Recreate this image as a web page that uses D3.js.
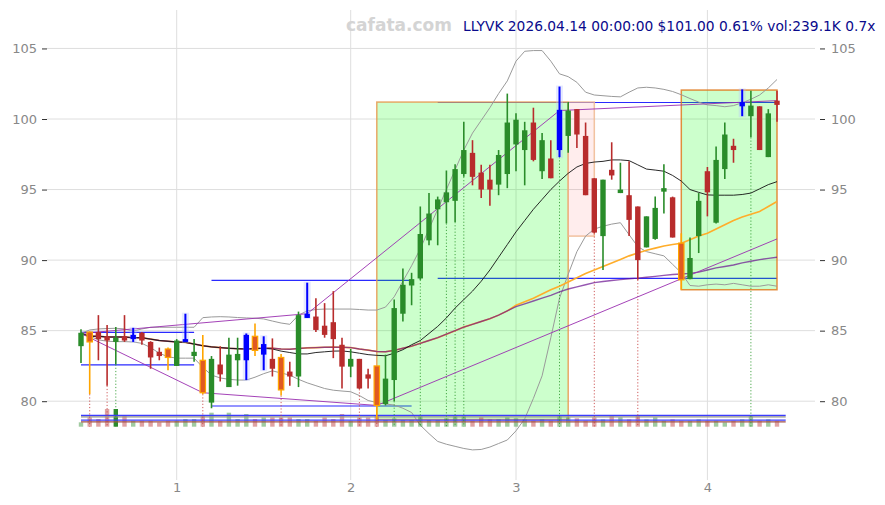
<!DOCTYPE html>
<html><head><meta charset="utf-8">
<script src="https://cdn.jsdelivr.net/npm/d3@7"></script>
<style>body{margin:0;background:#fff;} svg{display:block;font-family:"DejaVu Sans",sans-serif;}</style>
</head><body>
<svg id="c" width="885" height="505"></svg>
<script>
// ---------- DATA ----------
const opens  = [83.9,84.9,84.9,84.6,84.2,84.6,84.4,84.85,84.2,83.5,83.7,82.5,84.2,83.2,82.9,79.9,82.6,81.0,82.9,82.9,
  84.6,83.3,83.0,83.1,82.1,81.75,85.9,86.0,85.35,85.6,84.0,82.45,83.0,81.9,82.5,79.8,81.5,86.2,88.2,88.7,
  91.4,93.6,94.1,94.2,96.1,97.6,96.2,95.7,95.35,96.1,98.2,97.8,99.75,96.3,97.2,97.8,98.8,100.7,98.8,95.8,
  91.7,96.4,94.75,94.6,93.8,90.9,91.5,94.85,94.45,91.2,88.65,91.7,96.3,92.65,96.45,98.1,100.9,100.2,100.9,97.3,101.3];
const highs  = [85.1,84.95,86.1,85.4,85.25,86.1,85.2,84.9,84.25,83.8,83.8,84.4,86.2,84.4,84.7,83.2,83.9,84.5,84.5,84.8,
  85.5,84.6,84.45,83.35,82.8,86.35,88.4,87.3,86.95,87.8,84.5,83.7,83.0,82.3,82.5,83.3,87.2,89.4,89.1,93.8,
  94.75,94.5,96.35,96.8,99.8,98.5,96.75,96.75,97.8,101.8,100.4,99.8,100.8,99.0,98.5,102.3,101.2,100.7,99.75,95.8,
  95.7,98.35,96.9,97.0,93.8,93.1,94.5,96.8,94.5,91.9,91.6,94.75,96.6,98.05,99.75,98.6,102.1,102.0,100.9,100.7,102.0];
const lows   = [82.7,80.5,82.9,81.1,82.6,84.2,84.2,84.0,82.3,82.9,82.2,82.5,84.2,82.8,80.5,79.5,81.4,81.0,81.1,81.5,
  83.2,82.2,81.75,80.4,81.1,81.0,85.9,84.9,84.5,83.05,80.9,81.7,80.85,80.9,78.7,79.7,80.0,85.65,86.8,88.6,
  91.05,91.05,92.6,92.7,95.9,95.3,94.4,93.85,94.6,95.1,96.3,95.3,97.0,95.75,95.8,97.3,97.6,97.95,94.6,91.9,
  89.3,95.7,94.75,91.7,88.6,90.9,91.45,93.3,91.6,87.9,88.65,90.5,93.1,92.6,95.75,96.9,100.2,98.7,97.8,97.3,99.8];
const closes = [84.85,84.2,84.4,84.3,84.5,84.3,84.7,84.3,83.1,83.2,83.1,84.3,84.4,83.5,80.6,83.0,81.9,83.3,83.35,84.7,
  83.6,84.05,82.3,80.8,81.75,86.1,86.2,85.05,84.7,84.4,82.45,83.0,80.9,81.6,79.7,81.6,86.6,88.25,88.65,91.85,
  93.3,94.3,94.8,96.45,97.8,95.9,95.0,95.0,97.45,99.75,99.95,99.2,97.1,98.5,95.8,100.65,100.6,98.9,94.6,91.95,
  95.7,96.0,95.0,92.85,90.0,93.1,93.7,95.1,91.6,88.6,90.15,94.2,94.8,97.1,98.9,97.8,101.2,100.95,97.8,100.4,101.0];
// candle marker: g up, r down, b blue highlight, o orange highlight
const marks = ["g","o","r","r","g","r","b","r","r","r","o","g","b","g","o","g","r","g","g","b",
  "o","b","r","o","r","g","b","r","r","r","r","g","r","r","o","g","g","g","g","g",
  "g","g","g","g","g","r","r","r","g","g","g","g","r","g","r","b","g","r","r","r",
  "g","r","g","r","r","g","g","g","r","o","g","g","r","g","g","r","b","g","r","g","r"];
const volumes = [176,372,308,708,708,468,240,240,240,176,240,240,308,308,468,560,240,560,308,508,
  308,372,372,372,372,308,308,240,372,308,508,240,372,372,468,268,332,268,268,468,
  268,268,336,468,468,240,376,296,296,376,336,296,240,296,240,468,376,336,240,376,
  296,468,376,296,468,296,376,240,296,240,240,296,240,240,176,240,296,468,240,296,239.1];
const spikes = [1,3,4,14,23,32,34,36,39,42,43,44,55,59,64,77];
const ma20 = [84.8,84.6,84.6,84.55,84.55,84.55,84.5,84.5,84.4,84.3,84.25,84.2,84.17,84.05,83.93,83.85,83.8,83.75,83.72,83.7,
  83.72,83.74,83.7,83.55,83.45,83.35,83.35,83.45,83.5,83.55,83.56,83.5,83.4,83.3,83.25,83.22,
  83.4,83.65,84.0,84.3,84.8,85.3,85.9,86.6,87.2,87.8,88.5,89.3,90.2,91.1,92.0,92.8,93.6,94.3,95.0,95.6,96.15,96.6,96.85,
  96.95,97.0,97.1,97.1,97.05,96.75,96.45,96.38,96.3,96.0,95.6,95.0,94.8,94.62,94.6,94.6,94.6,94.65,94.75,95.05,95.35,95.56];
const ma50 = [84.8,84.6,84.6,84.55,84.55,84.55,84.5,84.5,84.4,84.3,84.25,84.2,84.17,84.05,83.93,83.85,83.8,83.75,83.72,83.7,
  83.74,83.76,83.75,83.7,83.68,83.73,83.78,83.8,83.82,83.83,83.82,83.8,83.7,83.62,83.52,83.5,
  83.6,83.75,83.9,84.1,84.3,84.5,84.75,85.0,85.25,85.45,85.65,85.85,86.1,86.4,
  86.8,87.05,87.3,87.6,87.9,88.15,88.45,88.75,89.05,89.3,89.55,89.8,90.05,90.3,90.5,90.7,90.85,91.0,91.1,91.2,
  91.45,91.7,91.9,92.2,92.5,92.8,93.05,93.25,93.45,93.8,94.15];
const ma100 = [84.8,84.6,84.6,84.55,84.55,84.55,84.5,84.5,84.4,84.3,84.25,84.2,84.17,84.05,83.93,83.85,83.8,83.75,83.72,83.7,
  83.74,83.76,83.75,83.7,83.68,83.73,83.78,83.8,83.82,83.83,83.82,83.8,83.7,83.62,83.52,83.5,
  83.6,83.75,83.9,84.1,84.3,84.5,84.75,85.0,85.25,85.45,85.65,85.85,86.1,86.4,
  86.7,86.9,87.1,87.3,87.5,87.75,87.95,88.1,88.25,88.4,88.48,88.55,88.62,88.68,88.72,88.78,88.85,88.92,88.98,89.02,
  89.06,89.15,89.3,89.45,89.55,89.65,89.8,89.92,90.03,90.12,90.2];
const bandUpper = [84.81,85.05,85.12,85.15,85.17,85.12,84.97,85.12,85.24,85.24,85.24,85.24,85.24,85.24,
  85.92,85.97,85.99,85.97,85.93,85.9,85.88,85.83,85.68,85.54,85.45,86.1,86.4,86.5,86.53,86.53,86.53,86.53,86.5,86.46,86.46,86.67,
  87.4,88.5,89.6,90.8,92.2,93.6,95.0,96.4,97.8,99.0,99.9,100.8,101.8,102.7,104.1,104.8,104.85,104.85,104.1,103.2,103.0,102.6,101.9,101.7,101.65,101.6,
  101.57,101.9,102.2,102.25,102.2,102.1,101.95,101.72,101.45,101.2,101.0,100.95,100.87,100.95,101.15,101.4,101.7,102.2,102.8];
const bandLower = [84.8,84.6,84.35,84.25,84.22,84.22,84.2,84.1,83.8,83.4,83.15,83.05,83.05,83.05,
  82.4,81.85,81.65,81.55,81.5,81.5,81.7,81.95,82.15,82.0,81.85,81.55,81.3,81.1,80.9,80.78,80.72,80.67,80.4,80.05,79.9,79.8,
  79.73,79.5,79.2,78.3,77.7,77.15,76.95,76.8,76.65,76.55,76.58,76.75,77.0,77.25,77.9,78.75,80.2,81.8,84.5,87.3,89.0,90.6,91.7,92.2,92.4,92.55,92.65,
  91.8,90.95,90.6,90.45,90.3,89.7,89.1,88.2,88.15,88.25,88.3,88.25,88.35,88.25,88.15,88.15,88.25,88.15];
const trendUpper = [[0,84.8],[26,86.2],[55,100.6],[80,101.3]];
const trendLower = [[0,84.8],[14,80.6],[34,79.7],[80,91.5]];
// horizontal levels: [startIndex, endIndex, price]
const levels = [[0,13,84.88],[0,13,82.57],[15,38,88.57],[15,38,79.66],[41,80,88.71],[41,80,101.17]];
// boxes: [startIndex, endIndex, top, bottom, kind]
const boxes = [[34,56,101.2,78.7,"up"],[56,59,101.2,91.7,"down"],[69,80,102.05,87.9,"up2"]];
// volume reference lines (K)
const volLevels = [456,396,260,196];
const volLevelColors = ["#3b3bff","#8c8c8c","#3b3bff","#a0524a"];
const yTicks = [80,85,90,95,100,105];
const xTickIdx = [11,31,50,72];
const xTickLabels = ["1","2","3","4"];
const brand = "cafata.com";
const header = "LLYVK 2026.04.14 00:00:00 $101.00 0.61% vol:239.1K 0.7x";

// ---------- SCALES ----------
const svg = d3.select("#c");
const x = d3.scaleLinear().domain([0,80]).range([81,777]);
const y = d3.scaleLinear().domain([80,100]).range([401.2,119]);
const vy = d3.scaleLinear().domain([0,1000]).range([426.7,401.7]);
const idx = d3.range(opens.length);
const L = 47, R = 815, T = 10, B = 480;

// grid
const g0 = svg.append("g");
g0.selectAll("line.h").data(yTicks).join("line")
  .attr("x1",L).attr("x2",R).attr("y1",d=>y(d)).attr("y2",d=>y(d))
  .attr("stroke","#dedede").attr("stroke-width",1);
g0.selectAll("line.v").data(xTickIdx).join("line")
  .attr("x1",d=>x(d)).attr("x2",d=>x(d)).attr("y1",T).attr("y2",B)
  .attr("stroke","#dedede").attr("stroke-width",1);

// axes
const fmtY = d3.format("d");
const axL = svg.append("g").attr("transform",`translate(${L},0)`)
  .call(d3.axisLeft(y).tickValues(yTicks).tickSize(5).tickPadding(5).tickFormat(fmtY));
const axR = svg.append("g").attr("transform",`translate(${R+5},0)`)
  .call(d3.axisRight(y).tickValues(yTicks).tickSize(5).tickPadding(6).tickFormat(fmtY));
const axB = svg.append("g").attr("transform",`translate(0,${B})`)
  .call(d3.axisBottom(x).tickValues(xTickIdx).tickSize(0).tickPadding(3).tickFormat((d,i)=>xTickLabels[i]));
[axL,axR,axB].forEach(a=>{
  a.select(".domain").remove();
  a.selectAll("text").attr("fill","#888").style("font-size","13px").style("font-family","DejaVu Sans, sans-serif");
  a.selectAll("line").attr("stroke","#333");
});

// horizontal support/resistance levels
svg.append("g").selectAll("line").data(levels).join("line")
  .attr("x1",d=>x(d[0])).attr("x2",d=>x(d[1])).attr("y1",d=>y(d[2])).attr("y2",d=>y(d[2]))
  .attr("stroke","#2a2aff").attr("stroke-width",1.2);

// boxes
const boxFill = {up:"#00ff00",up2:"#00ff00",down:"#ff0000"};
const boxFillOp = {up:0.2,up2:0.2,down:0.07};
const boxStroke = {up:"#e89a50",up2:"#e07a20",down:"#f0b890"};
svg.append("g").selectAll("rect").data(boxes).join("rect")
  .attr("x",d=>x(d[0])).attr("width",d=>x(d[1])-x(d[0]))
  .attr("y",d=>y(d[2])).attr("height",d=>y(d[3])-y(d[2]))
  .attr("fill",d=>boxFill[d[4]]).attr("fill-opacity",d=>boxFillOp[d[4]])
  .attr("stroke",d=>boxStroke[d[4]]).attr("stroke-opacity",0.85).attr("stroke-width",1.5);

// bollinger bands
const lineGen = arr => d3.line().x((d,i)=>x(i)).y(d=>y(d))(arr);
svg.append("path").attr("d",lineGen(bandUpper)).attr("fill","none").attr("stroke","#9a9a9a").attr("stroke-width",1);
svg.append("path").attr("d",lineGen(bandLower)).attr("fill","none").attr("stroke","#9a9a9a").attr("stroke-width",1);

// volume bars
const isUp = i => closes[i] >= opens[i];
svg.append("g").selectAll("rect").data(idx).join("rect")
  .attr("x",i=>x(i)-2.2).attr("width",4.4)
  .attr("y",i=>vy(volumes[i])).attr("height",i=>vy(0)-vy(volumes[i]))
  .attr("fill",i=>isUp(i)?"#2e8b2e":"#b83232")
  .attr("fill-opacity",i=>i===4?1:0.45);
svg.append("g").selectAll("line").data(volLevels).join("line")
  .attr("x1",x(0)).attr("x2",x(81)).attr("y1",d=>vy(d)).attr("y2",d=>vy(d))
  .attr("stroke",(d,i)=>volLevelColors[i]).attr("stroke-width",1.2);

// spike dotted lines
svg.append("g").selectAll("line").data(spikes).join("line")
  .attr("x1",i=>x(i)).attr("x2",i=>x(i)).attr("y1",i=>y(lows[i])).attr("y2",vy(0))
  .attr("stroke",i=>isUp(i)?"#2e9a2e":"#c84040").attr("stroke-width",1)
  .attr("stroke-dasharray","1.2,2").attr("opacity",0.85);

// moving averages
svg.append("path").attr("d",lineGen(ma50)).attr("fill","none").attr("stroke","#ffad2a").attr("stroke-width",1.6);
svg.append("path").attr("d",lineGen(ma100)).attr("fill","none").attr("stroke","#6a1090").attr("stroke-width",1.4).attr("stroke-opacity",0.7);
svg.append("path").attr("d",lineGen(ma20)).attr("fill","none").attr("stroke","#111").attr("stroke-width",0.9);

// trend lines
const tl = d3.line().x(d=>x(d[0])).y(d=>y(d[1]));
[trendUpper,trendLower].forEach(t=>svg.append("path").attr("d",tl(t)).attr("fill","none")
  .attr("stroke","#9a2fb0").attr("stroke-width",1).attr("stroke-opacity",0.9));

// candles
const colorOf = {g:"#2a8c2a",r:"#b82c2c",b:"#0000ff",o:"#ffa500"};
const cg = svg.append("g");
cg.selectAll("rect.halo").data(idx.filter(i=>marks[i]==="b")).join("rect")
  .attr("x",i=>x(i)-3.5).attr("width",7)
  .attr("y",i=>y(highs[i])-1).attr("height",i=>y(lows[i])-y(highs[i])+2)
  .attr("fill","#b8c4ff").attr("fill-opacity",0.35);
cg.selectAll("line.w").data(idx).join("line")
  .attr("x1",i=>x(i)).attr("x2",i=>x(i)).attr("y1",i=>y(highs[i])).attr("y2",i=>y(lows[i]))
  .attr("stroke",i=>colorOf[marks[i]]).attr("stroke-width",i=>marks[i]==="b"?2:1.6);
cg.selectAll("rect.b").data(idx).join("rect")
  .attr("x",i=>x(i)-2.7).attr("width",5.4)
  .attr("y",i=>y(Math.max(opens[i],closes[i])))
  .attr("height",i=>Math.max(1.2,Math.abs(y(opens[i])-y(closes[i]))))
  .attr("fill",i=>marks[i]==="o"?"#e05a22":colorOf[marks[i]])
  .attr("stroke",i=>marks[i]==="o"?"#ffa500":"none").attr("stroke-width",1.2);

// header
svg.append("text").attr("x",346).attr("y",31).text(brand)
  .attr("fill","#d4d4d4").style("font-size","17px").style("font-weight","bold");
svg.append("text").attr("x",463).attr("y",31).text(header)
  .attr("fill","#0a0a8c").style("font-size","13.8px");
</script>
</body></html>
